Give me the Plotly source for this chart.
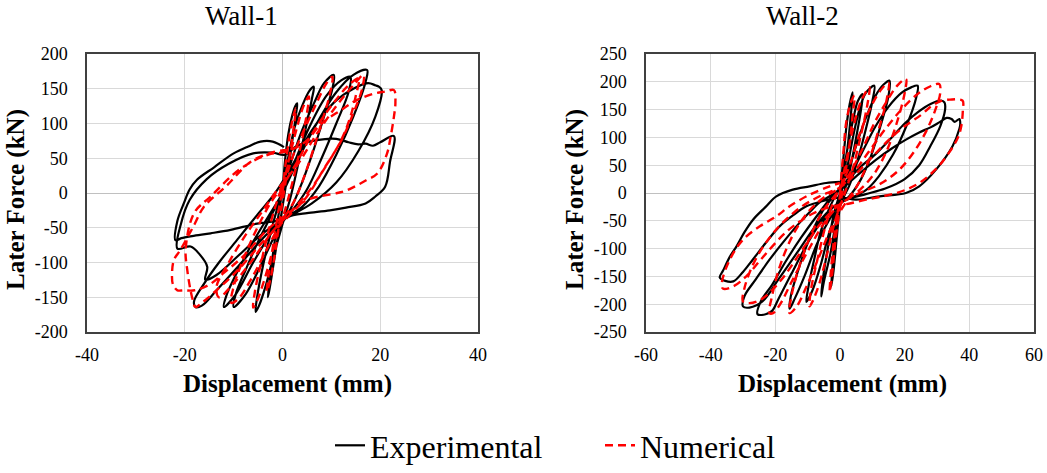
import plotly.graph_objects as go

# ---------------- data (displacement mm, force kN) ----------------
w1_exp_x = [0, 0.5, 1.2, 2.0, 2.6, 3.0, 2.8, 2.0, 1.0, 0, -1.0, -2.0, -2.7, -3.0, -2.7, -2.0, -1.0, 0,
            1.0, 2.5, 4.0, 5.5, 6.4, 6.0, 4.5, 3.0, 1.5, 0, -2.0, -3.5, -4.8, -5.5, -5.2, -4.0, -2.5, -1.0, 0.5,
            2.0, 4.0, 6.5, 8.5, 10.5, 10.2, 8.5, 6.5, 4.0, 1.5, -1.5, -4.5, -7.5, -10.0, -9.5, -7.5, -5.0, -2.5, 0,
            2.5, 5.5, 9.0, 12.0, 13.9, 13.5, 11.0, 8.0, 5.0, 2.0, -2.0, -6.0, -9.5, -12.0, -11.5, -9.0, -6.0, -3.0, 0,
            3.0, 7.0, 11.0, 14.5, 17.3, 17.0, 14.5, 11.0, 7.5, 4.0, 0, -4.0, -9.0, -13.5, -16.5, -17.8, -18.1, -16.0, -13.0, -9.0, -5.0, -1.5,
            2.0, 6.0, 10.5, 14.5, 17.5, 19.0, 19.7, 20.3, 19.0, 15.5, 11.0, 6.0, 1.0, -4.0, -9.0, -13.5, -15.8, -15.4, -17.0, -18.8, -21.5, -20.8, -19.0, -15.5, -11.0, -6.0, -2.0, 0.5,
            3.0, 7.0, 11.0, 13.5, 15.5, 17.0, 18.5, 20.0, 22.8, 22.0, 21.0, 19.0, 17.0, 13.0, 9.7, 5.0, 2.2, -0.5, -5.2, -10.6, -14.7, -18.5, -20.7, -21.9, -21.5, -20.2, -19.0, -17.5, -14.0, -10.0, -7.0, -4.5, -2.0, 0.3]
w1_exp_y = [0, 45, 85, 112, 125, 129, 115, 75, 25, -20, -65, -110, -140, -150, -130, -90, -40, 5,
            45, 95, 125, 147, 153, 135, 85, 35, -10, -45, -95, -135, -162, -171, -150, -105, -60, -20, 15,
            50, 90, 130, 158, 170, 150, 110, 65, 15, -25, -60, -105, -145, -164, -144, -110, -70, -35, 0,
            45, 95, 140, 162, 167, 145, 100, 50, 5, -25, -55, -100, -145, -164, -148, -110, -70, -35, 0,
            45, 100, 145, 170, 177, 160, 110, 55, 10, -20, -38, -65, -105, -140, -162, -164, -156, -130, -100, -65, -30, 0,
            40, 90, 130, 150, 158, 155, 153, 148, 110, 60, 15, -15, -35, -58, -90, -118, -125, -106, -88, -77, -80, -45, -10, 20, 42, 57, 58, 55,
            68, 76, 78, 73, 70, 71, 68, 73, 82, 45, 9, -5, -15, -21, -25, -29, -32, -39, -44, -53, -58, -62, -65, -68, -40, -15, 5, 19, 37, 57, 67, 74, 74, 66]

w1_num_x = [0, 0.6, 1.5, 2.2, 2.7, 2.4, 1.5, 0.5, -0.5, -1.5, -2.5, -3.2, -2.8, -1.8, -0.8, 0.2,
            1.2, 2.8, 4.3, 5.4, 5.0, 3.8, 2.2, 0.5, -1.5, -3.5, -5.2, -6.0, -5.6, -4.2, -2.5, -0.8, 0.8,
            2.5, 4.7, 7.0, 9.0, 10.2, 9.6, 7.5, 5.0, 2.5, -0.5, -3.5, -6.5, -9.0, -10.5, -10.0, -8.0, -5.5, -2.5, 0,
            3.0, 6.5, 10.5, 13.5, 15.6, 15.0, 13.9, 12.0, 9.0, 5.7, 2.0, -2.0, -6.0, -10.0, -13.0, -13.5, -11.0, -7.5, -4.0, -1.0,
            3.0, 7.0, 11.0, 14.5, 16.6, 16.3, 14.5, 12.0, 8.5, 5.0, 1.0, -4.0, -9.0, -13.5, -16.5, -17.8, -18.5, -19.5, -19.8, -18.1, -14.7, -8.6, -3.0, 1.0,
            4.7, 8.0, 11.9, 15.0, 18.7, 21.0, 22.8, 23.1, 22.8, 22.1, 21.4, 19.4, 17.3, 13.2, 11.2, 5.1, 1.0, -3.1, -7.9, -12.0, -15.0, -18.0, -20.2, -21.5, -22.4, -22.6, -22.2, -20.9, -18.0, -16.1, -11.3, -6.5, -1.8, 1.5]
w1_num_y = [0, 40, 85, 110, 122, 100, 55, 10, -35, -85, -125, -142, -115, -70, -25, 10,
            45, 90, 125, 139, 115, 70, 20, -25, -70, -120, -155, -165, -140, -95, -45, -5, 25,
            60, 95, 130, 158, 167, 140, 90, 35, -10, -45, -85, -125, -152, -158, -135, -95, -55, -15, 10,
            45, 90, 130, 155, 165, 140, 110, 76, 40, 5, -25, -55, -95, -130, -150, -135, -100, -60, -25, 5,
            40, 85, 125, 155, 170, 150, 115, 75, 35, -5, -35, -70, -110, -140, -158, -164, -150, -110, -80, -29, -5, 35, 55, 60,
            74, 100, 119, 133, 143, 146, 148, 130, 110, 80, 57, 28, 19, 4, 0, -10, -30, -53, -90, -115, -132, -140, -140, -140, -132, -115, -96, -82, -45, -20, 11.5, 45, 59, 62]

w2_exp_x = [0, 1, 2, 3, 3.9, 3.5, 2.5, 1.2, 0, -1, -2, -2.7, -2.3, -1.5, -0.5, 0.5,
            2, 4, 5.5, 7, 6.5, 5, 3, 1, -1, -3, -5, -5.8, -5.2, -3.5, -2, 0,
            2, 4, 6, 8, 10.6, 10, 8, 5.5, 3, 0, -3, -6, -8.5, -10.4, -9.8, -8, -6, -3.5, -1,
            2.5, 5, 8, 11, 13.5, 15.3, 15, 12.5, 9.5, 6.5, 3, 0, -3, -7, -11, -14, -15.6, -15.2, -13, -10, -7, -4, -1,
            3, 7, 11, 15, 19, 22, 24, 23.5, 20.5, 16.5, 12, 8, 3, -1, -5, -10, -15, -19, -21, -23, -25.5, -24.5, -21, -17, -12, -7, -3,
            2, 6, 11, 16, 20, 24, 28, 31.2, 32.3, 32.5, 31, 28, 24.5, 20, 14, 8, 3, -2, -7, -13, -19, -24, -28, -30, -29.5, -26, -21.8, -17.5, -13.5, -9.5, -6.3, -3, 0,
            5, 11.2, 16, 20.4, 24.5, 28, 30.7, 33, 34.5, 35.5, 36.9, 37.2, 36.9, 34.8, 29.7, 24.5, 20.4, 12.2, 5, 0, -5, -10.4, -14.5, -18.7, -23, -27, -30, -33, -35.5, -37.2, -36.2, -34, -32, -29.5, -26.9, -23, -19.7, -14.6, -9.4, -4.3, 0]
w2_exp_y = [0, 60, 120, 160, 181, 150, 90, 30, -20, -80, -140, -168, -130, -70, -20, 15,
            70, 130, 165, 178, 150, 100, 40, -5, -45, -110, -160, -186, -150, -90, -40, 0,
            40, 100, 150, 180, 193, 165, 115, 60, 15, -20, -65, -130, -175, -196, -170, -120, -70, -30, 0,
            40, 85, 135, 175, 195, 202, 175, 120, 65, 25, -5, -20, -45, -90, -150, -190, -208, -185, -140, -90, -50, -20, 0,
            30, 75, 120, 155, 180, 190, 193, 170, 120, 70, 30, 5, -10, -20, -45, -90, -145, -190, -212, -218, -218, -195, -165, -125, -80, -40, -10,
            20, 45, 70, 100, 125, 145, 160, 166, 163, 150, 120, 85, 50, 25, 8, -2, -10, -25, -55, -105, -155, -195, -206, -204, -185, -155, -120, -88, -60, -35, -17, -5, 5,
            30, 60, 80, 96, 109, 118, 127, 135, 133, 128, 133, 125, 115, 84, 42, 12, 0, -6, -12, -8, -14, -24, -40, -60, -90, -120, -142, -159, -158, -152, -140, -114, -96, -70, -48, -25, -6, 6, 12, 18, 20]

w2_num_x = [0, 1, 2, 3.5, 4.5, 4, 3, 1.5, 0, -1.5, -2.5, -3.2, -2.8, -1.8, -0.5, 0.5,
            2, 4, 6.5, 9.1, 8.5, 6.5, 4, 1.5, -1.5, -4, -6.5, -8.5, -9.4, -9, -7, -4.5, -2, 0.5,
            3, 6, 10, 13, 15, 14.5, 12, 9, 5.5, 1.5, -2.5, -6.5, -10.5, -13.5, -15.6, -15, -12.5, -9, -5, -1,
            3, 7, 11, 15, 18, 20.4, 20, 17.5, 14, 10, 5, 0, -5, -10, -15, -18.5, -20.7, -21.8, -21, -18.5, -14.5, -10, -5, 0,
            4, 9, 14, 19, 24, 28, 30.7, 31, 29.5, 27, 23, 18, 12, 6, 0, -6, -12, -18, -24, -28, -30, -29.5, -27, -23, -18, -12, -6, 0,
            5, 10, 15, 20, 25, 28, 31, 34, 37.9, 38, 37.5, 36.5, 34, 30, 25, 20, 14, 8, 2, -3, -9.4, -16.6, -23.8, -29, -33, -36.2, -36.5, -34.1, -30, -24.8, -19.7, -15.6, -9.4, -3.2, 0]
w2_num_y = [0, 70, 130, 165, 175, 145, 90, 30, -25, -90, -150, -178, -140, -80, -25, 15,
            60, 115, 165, 190, 160, 105, 45, 0, -50, -110, -165, -195, -204, -175, -120, -60, -15, 15,
            50, 105, 160, 188, 198, 170, 115, 60, 15, -20, -60, -115, -170, -205, -216, -185, -130, -75, -30, 0,
            35, 80, 130, 170, 195, 205, 180, 125, 70, 30, 0, -20, -55, -105, -160, -200, -216, -216, -185, -130, -75, -35, -8, 10,
            35, 75, 115, 150, 178, 192, 196, 180, 150, 115, 75, 40, 15, 0, -20, -55, -105, -155, -190, -198, -195, -170, -130, -90, -55, -25, -5, 10,
            35, 65, 95, 120, 140, 155, 165, 168, 166, 150, 120, 100, 75, 45, 20, 5, -5, -12, -20, -25, -40, -70, -115, -150, -168, -172, -160, -120, -84, -60, -42, -24, -3, 12, 18]

x1_ticks = [-40, -20, 0, 20, 40]
y1_ticks = [-200, -150, -100, -50, 0, 50, 100, 150, 200]
x2_ticks = [-60, -40, -20, 0, 20, 40, 60]
y2_ticks = [-250, -200, -150, -100, -50, 0, 50, 100, 150, 200, 250]
titles = ["Wall-1", "Wall-2"]
x_title = "Displacement (mm)"
y_title = "Later Force (kN)"
series_names = ["Experimental", "Numerical"]

# ---------------- styling ----------------
FONT = "Liberation Serif, Times New Roman, Times, serif"
exp_line = dict(color="black", width=2.2)
num_line = dict(color="#ff0000", width=2.4, dash="8px,5px")

fig = go.Figure()
fig.add_trace(go.Scatter(x=w1_exp_x, y=w1_exp_y, mode="lines", line=exp_line, name=series_names[0],
                         legendgroup="exp", xaxis="x", yaxis="y", line_shape="spline"))
fig.add_trace(go.Scatter(x=w1_num_x, y=w1_num_y, mode="lines", line=num_line, name=series_names[1],
                         legendgroup="num", xaxis="x", yaxis="y", line_shape="spline"))
fig.add_trace(go.Scatter(x=w2_exp_x, y=w2_exp_y, mode="lines", line=exp_line, name=series_names[0],
                         legendgroup="exp", showlegend=False, xaxis="x2", yaxis="y2", line_shape="spline"))
fig.add_trace(go.Scatter(x=w2_num_x, y=w2_num_y, mode="lines", line=num_line, name=series_names[1],
                         legendgroup="num", showlegend=False, xaxis="x2", yaxis="y2", line_shape="spline"))

W, H = 1047, 473
ydom = [1 - 332 / H, 1 - 54 / H]


def xaxis(dom, ticks, rng, anchor):
    return dict(domain=dom, range=rng, tickvals=ticks, ticktext=[str(t) for t in ticks],
                showgrid=True, gridcolor="#d9d9d9", gridwidth=1,
                zeroline=True, zerolinecolor="#c0c0c0", zerolinewidth=1.3,
                showline=True, mirror=True, linecolor="#404040", linewidth=1.5,
                ticks="", ticklabelstandoff=6, tickfont=dict(family=FONT, size=18, color="black"),
                anchor=anchor, fixedrange=True, automargin=False)


def yaxis(ticks, rng, anchor):
    return dict(domain=ydom, range=rng, tickvals=ticks, ticktext=[str(t) for t in ticks],
                showgrid=True, gridcolor="#d9d9d9", gridwidth=1,
                zeroline=True, zerolinecolor="#c0c0c0", zerolinewidth=1.3,
                showline=True, mirror=True, linecolor="#404040", linewidth=1.5,
                ticks="", ticklabelstandoff=14, tickfont=dict(family=FONT, size=18, color="black"),
                anchor=anchor, fixedrange=True, automargin=False)


fig.update_layout(
    width=W, height=H, margin=dict(l=0, r=0, t=0, b=0, autoexpand=False),
    paper_bgcolor="white", plot_bgcolor="white",
    font=dict(family=FONT, color="black"),
    xaxis=xaxis([87 / W, 478 / W], x1_ticks, [-40, 40], "y"),
    yaxis=yaxis(y1_ticks, [-200, 200], "x"),
    xaxis2=xaxis([646 / W, 1034 / W], x2_ticks, [-60, 60], "y2"),
    yaxis2=yaxis(y2_ticks, [-250, 250], "x2"),
    showlegend=True,
    legend=dict(orientation="h", x=330 / W, xanchor="left", y=0.0, yanchor="bottom",
                font=dict(family=FONT, size=32, color="black"), bgcolor="rgba(0,0,0,0)",
                itemwidth=30, tracegroupgap=0, entrywidth=225, entrywidthmode="pixels"),
)

ann = []
for t, cx in zip(titles, [241, 802]):
    ann.append(dict(text=t, x=cx / W, y=1 - 16 / H, xref="paper", yref="paper", showarrow=False,
                    xanchor="center", yanchor="middle", font=dict(family=FONT, size=27, color="black")))
for cx in [287, 842]:
    ann.append(dict(text="<b>%s</b>" % x_title, x=cx / W, y=1 - 384 / H, xref="paper", yref="paper",
                    showarrow=False, xanchor="center", yanchor="middle",
                    font=dict(family=FONT, size=25, color="black")))
for cx in [16, 575]:
    ann.append(dict(text="<b>%s</b>" % y_title, x=cx / W, y=1 - 200 / H, xref="paper", yref="paper",
                    showarrow=False, xanchor="center", yanchor="middle", textangle=-90,
                    font=dict(family=FONT, size=25, color="black")))
fig.update_layout(annotations=ann)

fig.write_html("out.html")
